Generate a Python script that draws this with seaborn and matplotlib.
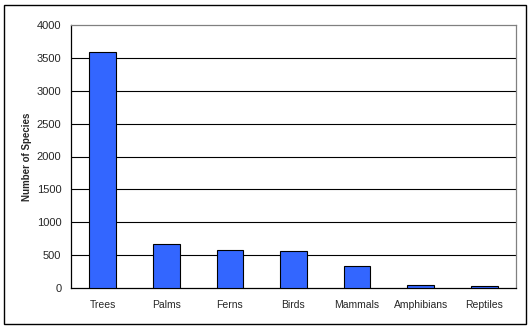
import matplotlib
matplotlib.use("Agg")
import matplotlib.pyplot as plt
import seaborn as sns
import pandas as pd
import numpy as np

categories = ["Trees", "Palms", "Ferns", "Birds", "Mammals", "Amphibians", "Reptiles"]
species = [3590, 665, 573, 558, 330, 41, 26]
yticks = [0, 500, 1000, 1500, 2000, 2500, 3000, 3500, 4000]

sns.set_style("white")
plt.rcParams['font.family'] = ['Liberation Sans', 'DejaVu Sans']

df = pd.DataFrame({"Category": categories, "Species": species})

fig = plt.figure(figsize=(5.31, 3.29), dpi=100)
fig.patch.set_facecolor("white")
# outer border
fig.add_artist(plt.Rectangle((4/531, 5/329), 522/531, 319/329, transform=fig.transFigure,
                             fill=False, edgecolor="black", linewidth=1))
ax = fig.add_axes([71/531, 41/329, 445/531, 263/329])

sns.barplot(data=df, x="Category", y="Species", color="#3366FF", edgecolor="black",
            linewidth=0.8, width=0.42, saturation=1, ax=ax, zorder=3)

ax.set_ylim(0, 4000)
ax.set_xlim(-0.5, len(categories) - 0.5)
ax.set_yticks(yticks)
ax.set_yticklabels([str(v) for v in yticks], fontsize=8)
ax.set_xticks(range(len(categories)))
ax.set_xticklabels(categories, fontsize=7.5)
ax.tick_params(axis="x", which="major", length=0, pad=9)
ax.set_xticks(np.arange(-0.5, len(categories)), minor=True)
ax.tick_params(axis="x", which="minor", length=4, width=0.8, color="black", direction="out")
ax.tick_params(axis="y", length=4, width=0.8, color="black", direction="out", pad=3)

for v in yticks[1:-1]:
    ax.axhline(v, color="black", linewidth=0.8, zorder=1)

ax.set_xlabel("")
ax.set_ylabel("Number of Species", fontsize=7, fontweight="bold", labelpad=3)

for side in ["left", "bottom"]:
    ax.spines[side].set_color("black")
    ax.spines[side].set_linewidth(0.9)
for side in ["top", "right"]:
    ax.spines[side].set_visible(True)
    ax.spines[side].set_color("#808080")
    ax.spines[side].set_linewidth(0.9)

fig.savefig("out.png", dpi=100)
